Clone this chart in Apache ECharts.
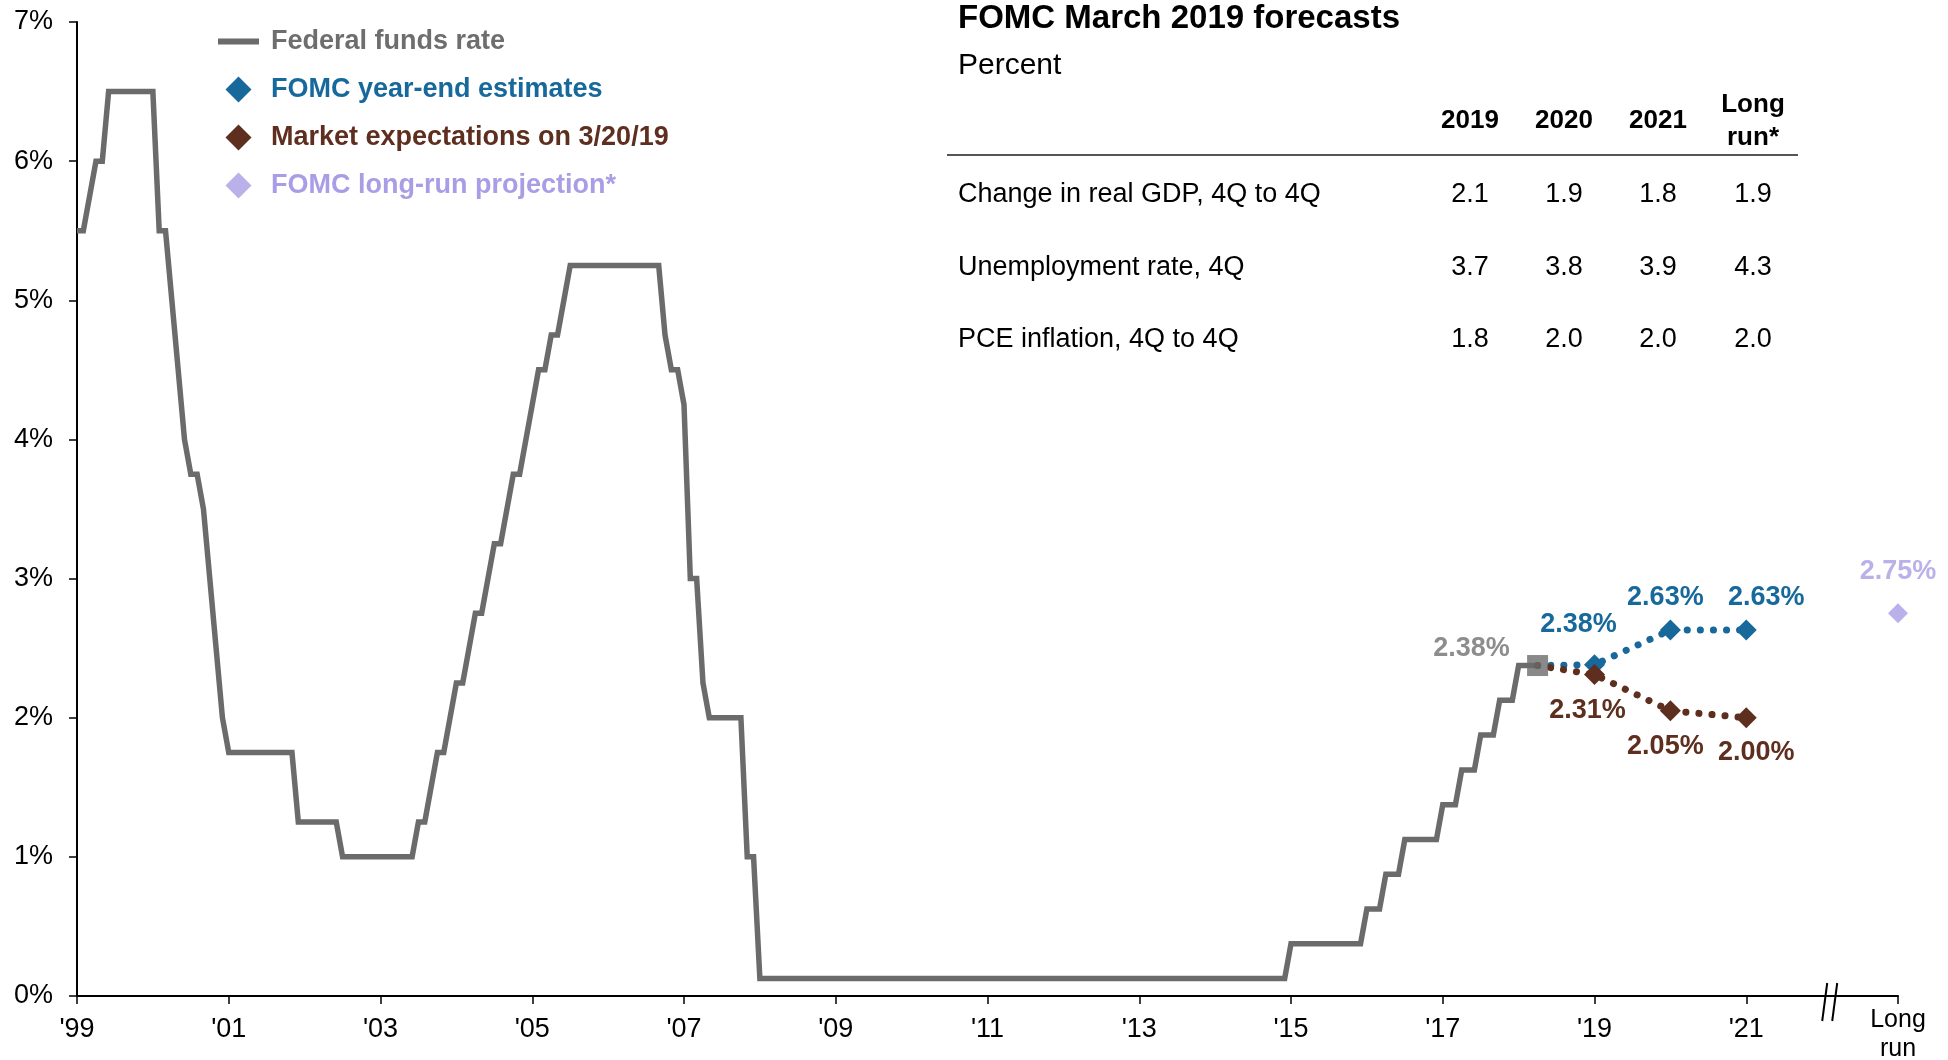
<!DOCTYPE html>
<html>
<head>
<meta charset="utf-8">
<script src="https://cdn.jsdelivr.net/npm/echarts@6/dist/echarts.min.js"></script>
<style>
  html, body { margin: 0; padding: 0; background: #fff; }
  #chart { width: 1948px; height: 1060px; }
</style>
</head>
<body>
<div id="chart"></div>
<script>
// federal funds rate, corner points: months after the '99 tick and rate in %
var ffMonths = [0, 1, 3, 4, 5, 12, 13, 14, 15, 16, 17, 18, 19, 20, 21, 22, 23, 24,
  34, 35, 41, 42, 53, 54, 55, 56, 57, 58, 59, 60, 61, 62, 63, 64, 65, 66, 67, 68, 69, 70,
  71, 72, 73, 74, 75, 76, 77, 78, 92, 93, 94, 95, 96, 97, 98, 99, 100, 105, 106, 107, 108,
  191, 192, 203, 204, 206, 207, 209, 210, 215, 216, 218, 219, 221, 222, 224, 225, 227, 228, 231];
var ffRates = [5.5, 5.5, 6.0, 6.0, 6.5, 6.5, 5.5, 5.5, 5.0, 4.5, 4.0, 3.75, 3.75, 3.5, 3.0, 2.5, 2.0, 1.75,
  1.75, 1.25, 1.25, 1.0, 1.0, 1.25, 1.25, 1.5, 1.75, 1.75, 2.0, 2.25, 2.25, 2.5, 2.75, 2.75, 3.0, 3.25, 3.25, 3.5, 3.75, 3.75,
  4.0, 4.25, 4.5, 4.5, 4.75, 4.75, 5.0, 5.25, 5.25, 4.75, 4.5, 4.5, 4.25, 3.0, 3.0, 2.25, 2.0, 2.0, 1.0, 1.0, 0.125,
  0.125, 0.375, 0.375, 0.625, 0.625, 0.875, 0.875, 1.125, 1.125, 1.375, 1.375, 1.625, 1.625, 1.875, 1.875, 2.125, 2.125, 2.375, 2.375];

var forecastYears = [2019, 2020, 2021];
var fomcEstimates = [2.38, 2.63, 2.63];
var marketExpectations = [2.31, 2.05, 2.00];
var longRunYear = 2023;
var longRunRate = 2.75;

var xTickYears = [1999, 2001, 2003, 2005, 2007, 2009, 2011, 2013, 2015, 2017, 2019, 2021, 2023];
var xTickLabels = ["'99", "'01", "'03", "'05", "'07", "'09", "'11", "'13", "'15", "'17", "'19", "'21", 'Long\nrun'];

var seriesNames = ['Federal funds rate', 'FOMC year-end estimates', 'Market expectations on 3/20/19', 'FOMC long-run projection*'];

var tableTitle = 'FOMC March 2019 forecasts';
var tableUnit = 'Percent';
var tableCols = ['2019', '2020', '2021', 'Long\nrun*'];
var tableRows = ['Change in real GDP, 4Q to 4Q', 'Unemployment rate, 4Q', 'PCE inflation, 4Q to 4Q'];
var gdpValues = ['2.1', '1.9', '1.8', '1.9'];
var unemploymentValues = ['3.7', '3.8', '3.9', '4.3'];
var pceValues = ['1.8', '2.0', '2.0', '2.0'];

var FONT = 'Arial, "Liberation Sans", Helvetica, sans-serif';
var GRAY = '#6b6b6b';
var BLUE = '#17699b';
var BROWN = '#5e2e1e';
var LILAC = '#a99de6';

// label nudges (px), styling only
var blueLabelShift = [[-16, -40], [-5, -33], [20, -33]];
var brownLabelShift = [[-7, 36], [-5, 36], [10, 35]];

var ffData = ffMonths.map(function (m, i) { return [1999 + m / 12, ffRates[i]]; });
var lastPoint = ffData[ffData.length - 1];

function pctLabel(p) { return p.value[1].toFixed(2) + '%'; }

function forecastData(values, shifts) {
  var out = [{ value: lastPoint, symbol: 'none', label: { show: false } }];
  forecastYears.forEach(function (y, i) {
    out.push({ value: [y, values[i]], label: { offset: shifts[i] } });
  });
  return out;
}

function xLabel(v) {
  var t = xTickLabels[xTickYears.indexOf(v)] || '';
  if (t.indexOf('\n') >= 0) {
    return t.split('\n').map(function (s) { return '{two|' + s + '}'; }).join('\n');
  }
  return '{one|' + t + '}';
}

var chart = echarts.init(document.getElementById('chart'));

var labelFont = { fontFamily: FONT, fontSize: 27, fontWeight: 'bold' };
var diamondIcon = 'path://M12,0L24,12L12,24L0,12Z';

chart.setOption({
  animation: false,
  backgroundColor: '#fff',
  textStyle: { fontFamily: FONT },
  grid: { left: 77, right: 50, top: 22, bottom: 64, outerBoundsMode: 'none' },
  legend: {
    orient: 'vertical',
    left: 213,
    top: 23,
    itemWidth: 41,
    itemHeight: 26,
    itemGap: 21,
    selectedMode: false,
    textStyle: { fontFamily: FONT, fontSize: 27, fontWeight: 'bold', lineHeight: 27, padding: [0, 0, 0, 7] },
    data: [
      { name: seriesNames[0], icon: 'path://M0,0H41V6H0Z', textStyle: { color: '#6e6e6e' } },
      { name: seriesNames[1], icon: diamondIcon, textStyle: { color: BLUE } },
      { name: seriesNames[2], icon: diamondIcon, textStyle: { color: BROWN } },
      { name: seriesNames[3], icon: diamondIcon, textStyle: { color: LILAC } }
    ]
  },
  xAxis: {
    type: 'value',
    min: 1999,
    max: 2023,
    axisLine: { lineStyle: { color: '#000', width: 2 } },
    axisTick: { customValues: xTickYears, length: 8, lineStyle: { color: '#000', width: 1.5 } },
    axisLabel: {
      customValues: xTickYears,
      margin: 10,
      color: '#000',
      fontFamily: FONT,
      fontSize: 27,
      formatter: xLabel,
      rich: {
        one: { fontFamily: FONT, fontSize: 27, color: '#000', lineHeight: 48 },
        two: { fontFamily: FONT, fontSize: 25, color: '#000', lineHeight: 29 }
      }
    },
    splitLine: { show: false }
  },
  yAxis: {
    type: 'value',
    min: 0,
    max: 7,
    interval: 1,
    axisLine: { show: true, lineStyle: { color: '#000', width: 2 } },
    axisTick: { show: true, length: 8, lineStyle: { color: '#000', width: 1.5 } },
    axisLabel: { margin: 24, color: '#000', fontFamily: FONT, fontSize: 27, formatter: '{value}%' },
    splitLine: { show: false }
  },
  series: [
    {
      name: seriesNames[0],
      type: 'line',
      data: ffData,
      symbol: 'none',
      color: GRAY,
      lineStyle: { color: GRAY, width: 5.5, join: 'miter' },
      z: 2
    },
    {
      name: seriesNames[1],
      type: 'line',
      data: forecastData(fomcEstimates, blueLabelShift),
      symbol: 'diamond',
      symbolSize: 21,
      color: BLUE,
      lineStyle: { color: BLUE, width: 7, type: [0.1, 13], cap: 'round' },
      label: Object.assign({ show: true, position: 'inside', color: BLUE, formatter: pctLabel }, labelFont),
      z: 3
    },
    {
      name: seriesNames[2],
      type: 'line',
      data: forecastData(marketExpectations, brownLabelShift),
      symbol: 'diamond',
      symbolSize: 21,
      color: BROWN,
      lineStyle: { color: BROWN, width: 7, type: [0.1, 13], cap: 'round' },
      label: Object.assign({ show: true, position: 'inside', color: BROWN, formatter: pctLabel }, labelFont),
      z: 4
    },
    {
      name: seriesNames[3],
      type: 'scatter',
      data: [[longRunYear, longRunRate]],
      symbol: 'diamond',
      symbolSize: 20,
      color: LILAC,
      label: Object.assign({ show: true, position: 'inside', offset: [0, -42], color: LILAC, formatter: pctLabel }, labelFont),
      z: 3
    },
    {
      name: 'current',
      type: 'scatter',
      data: [lastPoint],
      symbol: 'rect',
      symbolSize: 21,
      color: GRAY,
      label: Object.assign({ show: true, position: 'inside', offset: [-66, -17], color: '#707070', formatter: pctLabel }, labelFont),
      z: 5
    }
  ]
});

// forecast table and axis break
var tableLeft = 958;
var colCenters = [1470, 1564, 1658, 1753];
var rowCenters = [195, 268, 340];
var tableValues = [gdpValues, unemploymentValues, pceValues];
var gfx = [
  { type: 'text', x: tableLeft, y: 19, style: { text: tableTitle, font: 'bold 33px ' + FONT, fill: '#000', verticalAlign: 'middle' } },
  { type: 'text', x: tableLeft, y: 66, style: { text: tableUnit, font: '30px ' + FONT, fill: '#000', verticalAlign: 'middle' } },
  { type: 'line', shape: { x1: 947, y1: 155, x2: 1798, y2: 155 }, style: { stroke: '#555', lineWidth: 2 } }
];
tableCols.forEach(function (c, j) {
  gfx.push({ type: 'text', x: colCenters[j], y: 121, style: { text: c, font: 'bold 26px ' + FONT, lineHeight: 33, fill: '#000', align: 'center', verticalAlign: 'middle' } });
});
tableRows.forEach(function (r, i) {
  gfx.push({ type: 'text', x: tableLeft, y: rowCenters[i], style: { text: r, font: '27px ' + FONT, fill: '#000', verticalAlign: 'middle' } });
  tableValues[i].forEach(function (v, j) {
    gfx.push({ type: 'text', x: colCenters[j], y: rowCenters[i], style: { text: v, font: '27px ' + FONT, fill: '#000', align: 'center', verticalAlign: 'middle' } });
  });
});

var bx = chart.convertToPixel({ xAxisIndex: 0 }, 2022.1);
var by = chart.convertToPixel({ yAxisIndex: 0 }, 0);
gfx.push({
  type: 'group', x: bx, y: by,
  children: [
    { type: 'rect', shape: { x: -4, y: -3, width: 9, height: 6 }, style: { fill: '#fff' } },
    { type: 'line', shape: { x1: -2.5, y1: -13, x2: -7.5, y2: 25 }, style: { stroke: '#000', lineWidth: 2 } },
    { type: 'line', shape: { x1: 7.5, y1: -13, x2: 2.5, y2: 25 }, style: { stroke: '#000', lineWidth: 2 } }
  ]
});

chart.setOption({ graphic: gfx });
</script>
</body>
</html>
